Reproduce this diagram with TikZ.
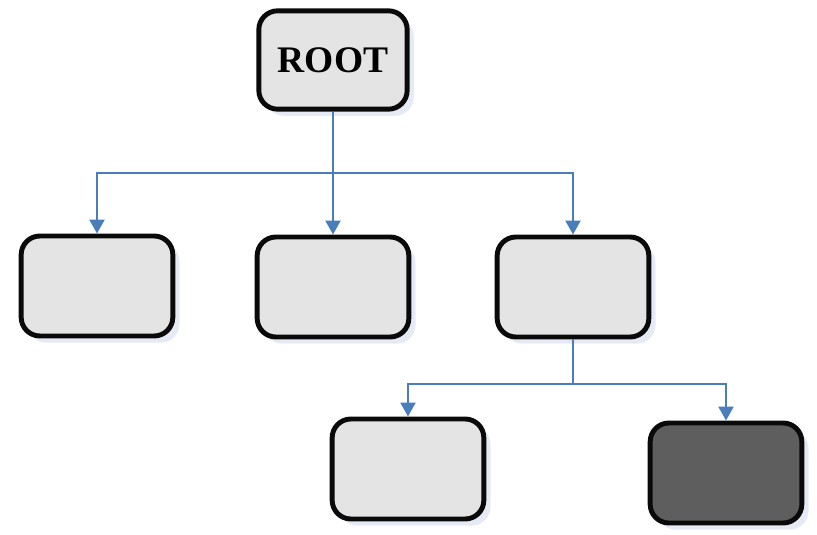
\documentclass[tikz,border=0pt]{standalone}
\usepackage{fontspec}
\setmainfont{Liberation Serif}
\usepackage{xcolor}
\usepackage{tikz}
\usetikzlibrary{arrows.meta, positioning, shadows}
\definecolor{Ink}{HTML}{0A0A0A}
\definecolor{Wire}{HTML}{4A7EBB}
\definecolor{SoftGray}{HTML}{E4E4E4}
\definecolor{DarkGray}{HTML}{5E5E5E}
\definecolor{Shade}{HTML}{B8C4E0}

\begin{document}
\begin{tikzpicture}[
  x=0.03cm, y=-0.03cm,
  box/.style={rounded corners=16pt, draw=Ink, line width=4.2pt, fill=SoftGray,
    minimum width=4.55cm, minimum height=3.0cm,
    drop shadow={fill=Shade, opacity=0.35, shadow xshift=0.2cm, shadow yshift=-0.2cm}},
  arrow/.style={-{Triangle[width=0.45cm, length=0.42cm]}, line width=2pt, draw=Wire}
]
\useasboundingbox (0,0) rectangle (817,534);
\node[box, minimum width=4.45cm, minimum height=2.95cm, font=\fontsize{32}{36}\selectfont\bfseries] (root) at (333,60) {ROOT};
\node[box] (left) at (97,286) {};
\node[box] (mid) at (333,287) {};
\node[box] (right) at (573,287) {};
\node[box] (low) at (408,469) {};
\node[box, fill=DarkGray] (dark) at (726,473) {};
\coordinate (fork1) at (333,173);
\coordinate (fork2) at (573,384);
\draw[arrow] (root.south) -- (fork1) -| (left.north);
\draw[arrow] (fork1) -- (mid.north);
\draw[arrow] (fork1) -| (right.north);
\draw[arrow] (right.south) -- (fork2) -| (low.north);
\draw[arrow] (fork2) -| (dark.north);
\end{tikzpicture}
\end{document}
